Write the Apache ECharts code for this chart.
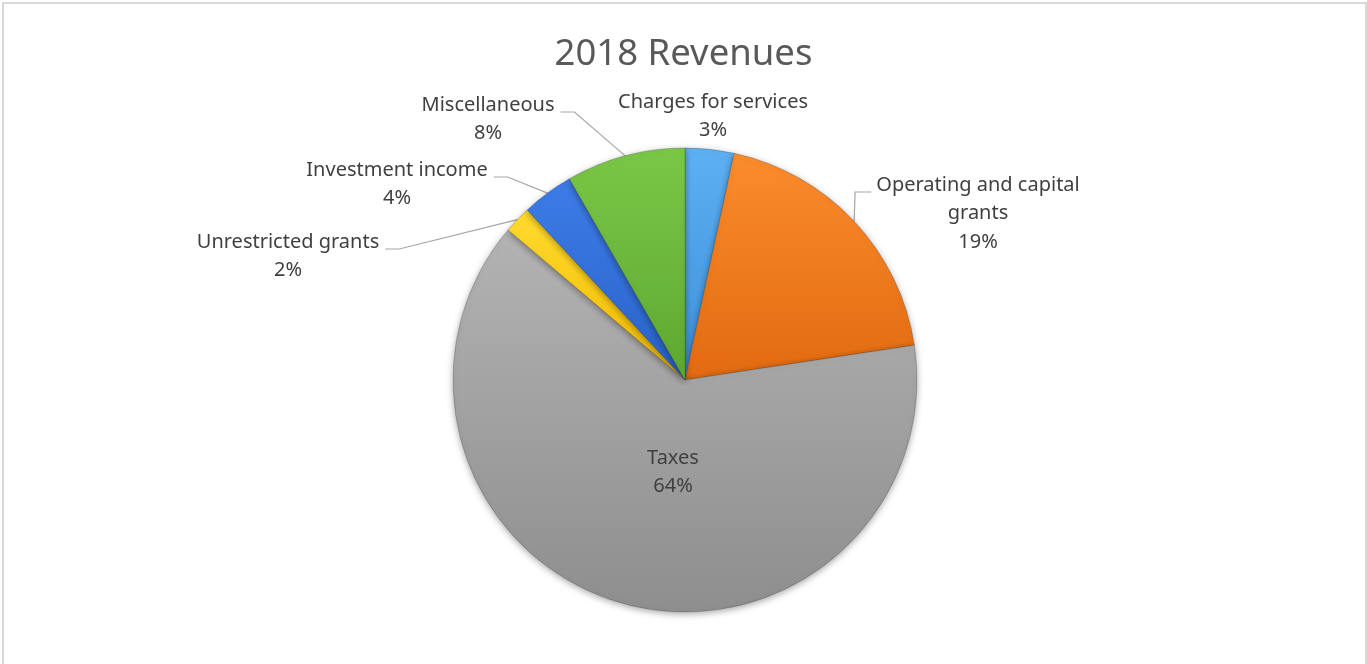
<!DOCTYPE html>
<html>
<head>
<meta charset="utf-8">
<script src="https://cdn.jsdelivr.net/npm/echarts@6/dist/echarts.min.js"></script>
<style>
html,body{margin:0;padding:0;width:1367px;height:664px;overflow:hidden;background:#fff;}
#frame{position:absolute;left:2px;top:2px;width:1361px;height:700px;border:2px solid #d9d9d9;box-sizing:content-box;}
#chart{position:absolute;left:0;top:0;width:1367px;height:664px;}
</style>
</head>
<body>
<div id="frame"></div>
<div id="chart"></div>
<script>
// ---- data ----
const categories = ['Charges for services', 'Operating and capital grants', 'Taxes', 'Unrestricted grants', 'Investment income', 'Miscellaneous'];
const labelNames = ['Charges for services', 'Operating and capital\ngrants', 'Taxes', 'Unrestricted grants', 'Investment income', 'Miscellaneous'];
const values = [3.4, 19.2, 63.6, 1.9, 3.6, 8.3];

// ---- styles / layout ----
const palette = [
  ['#5db0f3', '#3e8fd9'],
  ['#fb8c2c', '#e26a10'],
  ['#b3b3b3', '#8e8e8e'],
  ['#ffdb2e', '#f1b800'],
  ['#3d7ce8', '#2862c6'],
  ['#7ac847', '#5ea731']
];
// label anchor: centre x and first-line centre y, plus leader side
const labelAnchors = [
  { cx: 713, y1: 102, side: null },
  { cx: 978, y1: 185, side: 'right' },
  { cx: 673, y1: 458, side: null },
  { cx: 288, y1: 242, side: 'left' },
  { cx: 397, y1: 170, side: 'left' },
  { cx: 488, y1: 105, side: 'left' }
];
const LH = 28.5;

const chart = echarts.init(document.getElementById('chart'), null, { renderer: 'canvas' });

const data = categories.map(function (name, i) {
  return {
    name: name,
    value: values[i],
    itemStyle: {
      color: new echarts.graphic.LinearGradient(0, 0, 0, 1, [
        { offset: 0, color: palette[i][0] },
        { offset: 1, color: palette[i][1] }
      ])
    },
    labelLine: { show: labelAnchors[i].side !== null }
  };
});

const option = {
  animation: false,
  title: {
    text: '2018 Revenues',
    left: 'center',
    top: 29,
    textStyle: {
      fontFamily: 'Noto Sans',
      fontSize: 36.5,
      fontWeight: 'normal',
      color: '#595959',
      lineHeight: 42
    }
  },
  series: [{
    type: 'pie',
    center: [685, 380],
    radius: 232,
    startAngle: 90,
    clockwise: true,
    avoidLabelOverlap: false,
    percentPrecision: 0,
    itemStyle: {
      borderColor: 'rgba(60,60,60,0.35)',
      borderWidth: 0.8,
      shadowBlur: 7,
      shadowColor: 'rgba(0,0,0,0.35)',
      shadowOffsetY: 2
    },
    label: {
      show: true,
      position: 'outside',
      fontFamily: 'Noto Sans',
      fontSize: 20,
      color: '#404040',
      lineHeight: LH,
      align: 'center',
      formatter: function (p) {
        return labelNames[p.dataIndex] + '\n' + Math.round(p.percent) + '%';
      }
    },
    labelLine: {
      show: true,
      length: 20,
      length2: 15,
      lineStyle: { color: '#a6a6a6', width: 1.2 }
    },
    labelLayout: function (p) {
      const a = labelAnchors[p.dataIndex];
      const nLines = labelNames[p.dataIndex].split('\n').length + 1;
      const res = {
        x: a.cx,
        y: a.y1 + (nLines - 1) * LH / 2,
        align: 'center',
        verticalAlign: 'middle'
      };
      const pts = p.labelLinePoints;
      if (pts && a.side) {
        const edge = pts[0];
        const ty = a.y1 + 7;
        const w = p.labelRect.width;
        if (a.side === 'right') {
          res.labelLinePoints = [edge, [edge[0] + 1, ty], [a.cx - w / 2 - 5, ty]];
        } else {
          res.labelLinePoints = [edge, [a.cx + w / 2 + 20, ty], [a.cx + w / 2 + 6, ty]];
        }
      }
      return res;
    },
    data: data
  }]
};
chart.setOption(option);
</script>
</body>
</html>
